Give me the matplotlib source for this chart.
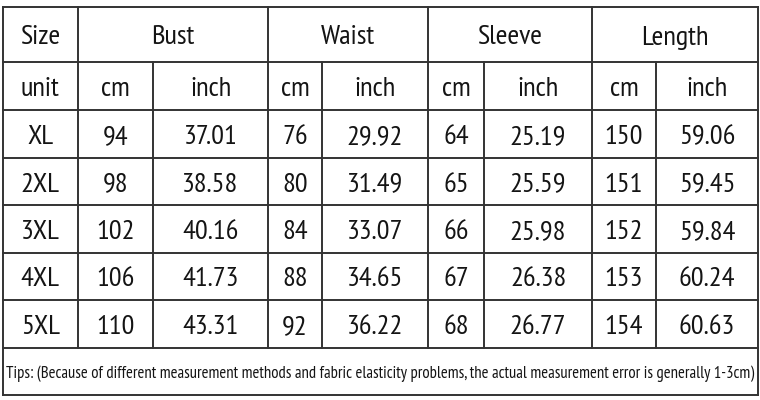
import matplotlib
matplotlib.use("Agg")
import matplotlib.pyplot as plt

# table content
groups = ["Bust", "Waist", "Sleeve", "Length"]
sizes = ["XL", "2XL", "3XL", "4XL", "5XL"]
bust_cm = ["94", "98", "102", "106", "110"]
bust_in = ["37.01", "38.58", "40.16", "41.73", "43.31"]
waist_cm = ["76", "80", "84", "88", "92"]
waist_in = ["29.92", "31.49", "33.07", "34.65", "36.22"]
sleeve_cm = ["64", "65", "66", "67", "68"]
sleeve_in = ["25.19", "25.59", "25.98", "26.38", "26.77"]
length_cm = ["150", "151", "152", "153", "154"]
length_in = ["59.06", "59.45", "59.84", "60.24", "60.63"]
tips = ("Tips: (Because of different measurement methods and fabric elasticity "
        "problems, the actual measurement error is generally 1-3cm)")

# layout in pixels
col_x = [2.5, 78, 153, 268, 322, 428, 484, 592, 656, 758]
row_y = [7, 62, 110, 158, 205, 253, 300, 348, 395]
line_col = "#333333"
text_col = "#141414"
fam = ["PT Sans Narrow", "Asap Condensed", "DejaVu Sans"]

fig = plt.figure(figsize=(7.6, 4.0), dpi=100)
ax = fig.add_axes([0, 0, 1, 1])
ax.set_xlim(0, 760)
ax.set_ylim(400, 0)
ax.axis("off")

lw = 1.4
for y in row_y:
    ax.plot([col_x[0], col_x[-1]], [y, y], color=line_col, lw=lw)
ax.plot([col_x[0], col_x[0]], [row_y[0], row_y[8]], color=line_col, lw=lw)
ax.plot([col_x[-1], col_x[-1]], [row_y[0], row_y[8]], color=line_col, lw=lw)
# group separators
for i in [1, 3, 5, 7]:
    ax.plot([col_x[i], col_x[i]], [row_y[0], row_y[7]], color=line_col, lw=lw)
# cm / inch separators
for i in [2, 4, 6, 8]:
    ax.plot([col_x[i], col_x[i]], [row_y[1], row_y[7]], color=line_col, lw=lw)

fs = 20.5
def cell(x0, x1, y0, y1, s, size=fs):
    ax.text((x0 + x1) / 2, (y0 + y1) / 2 + 3, s, ha="center", va="center",
            fontsize=size, color=text_col, family=fam)

cell(col_x[0], col_x[1], row_y[0], row_y[1], "Size")
for g, name in enumerate(groups):
    cell(col_x[1 + 2 * g], col_x[3 + 2 * g], row_y[0], row_y[1], name)
cell(col_x[0], col_x[1], row_y[1], row_y[2], "unit")
for g in range(4):
    cell(col_x[1 + 2 * g], col_x[2 + 2 * g], row_y[1], row_y[2], "cm")
    cell(col_x[2 + 2 * g], col_x[3 + 2 * g], row_y[1], row_y[2], "inch")

columns = [sizes, bust_cm, bust_in, waist_cm, waist_in,
           sleeve_cm, sleeve_in, length_cm, length_in]
for c, vals in enumerate(columns):
    for r, v in enumerate(vals):
        cell(col_x[c], col_x[c + 1], row_y[2 + r], row_y[3 + r], v)

t = ax.text(col_x[0] + 4, (row_y[7] + row_y[8]) / 2 + 2, tips, ha="left",
            va="center", fontsize=13, color=text_col, family=fam)
# shrink the tips line so it fits the row width
r = fig.canvas.get_renderer()
w = t.get_window_extent(r).width
if w > 744:
    t.set_fontsize(13 * 744 / w)

fig.savefig("out.png", dpi=100, facecolor="white")
